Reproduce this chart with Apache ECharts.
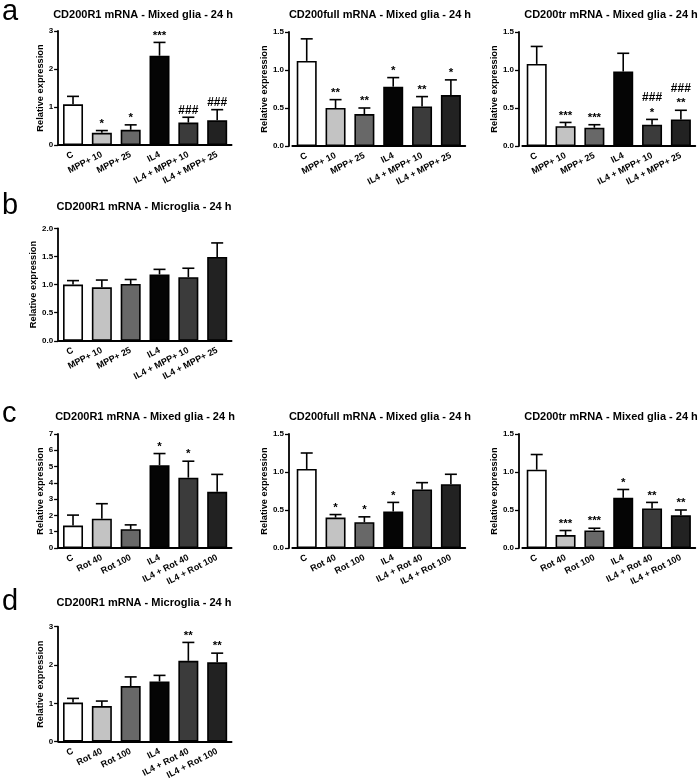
<!DOCTYPE html>
<html><head><meta charset="utf-8">
<script src="https://cdn.jsdelivr.net/npm/echarts@6/dist/echarts.min.js"></script>
<style>html,body{margin:0;padding:0;background:#fff}#c{width:699px;height:784px}</style>
</head><body><div id="c"></div>
<script>
// ---------- data ----------
const catsMPP = ['C', 'MPP+ 10', 'MPP+ 25', 'IL4', 'IL4 + MPP+ 10', 'IL4 + MPP+ 25'];
const catsRot = ['C', 'Rot 40', 'Rot 100', 'IL4', 'IL4 + Rot 40', 'IL4 + Rot 100'];

// panel a
const aR1Mean = [1.07, 0.32, 0.40, 2.35, 0.59, 0.65];
const aR1Top  = [1.28, 0.38, 0.53, 2.70, 0.73, 0.93];
const aR1Star = ['', '*', '*', '***', '', ''];
const aR1Hash = ['', '', '', '', '###', '###'];

const aFullMean = [1.12, 0.50, 0.42, 0.78, 0.52, 0.67];
const aFullTop  = [1.41, 0.61, 0.50, 0.90, 0.65, 0.87];
const aFullStar = ['', '**', '**', '*', '**', '*'];
const aFullHash = ['', '', '', '', '', ''];

const aTrMean = [1.08, 0.26, 0.24, 0.98, 0.28, 0.35];
const aTrTop  = [1.31, 0.31, 0.28, 1.22, 0.35, 0.47];
const aTrStar = ['', '***', '***', '', '*', '**'];
const aTrHash = ['', '', '', '', '###', '###'];

// panel b
const bR1Mean = [1.00, 0.95, 1.01, 1.18, 1.13, 1.49];
const bR1Top  = [1.07, 1.08, 1.09, 1.27, 1.29, 1.74];
const bR1Star = ['', '', '', '', '', ''];
const bR1Hash = ['', '', '', '', '', ''];

// panel c
const cR1Mean = [1.38, 1.80, 1.15, 5.08, 4.32, 3.45];
const cR1Top  = [2.02, 2.72, 1.42, 5.80, 5.33, 4.52];
const cR1Star = ['', '', '', '*', '*', ''];
const cR1Hash = ['', '', '', '', '', ''];

const cFullMean = [1.04, 0.40, 0.34, 0.48, 0.77, 0.84];
const cFullTop  = [1.25, 0.44, 0.41, 0.60, 0.86, 0.97];
const cFullStar = ['', '*', '*', '*', '', ''];
const cFullHash = ['', '', '', '', '', ''];

const cTrMean = [1.03, 0.17, 0.23, 0.66, 0.52, 0.43];
const cTrTop  = [1.23, 0.23, 0.26, 0.77, 0.60, 0.50];
const cTrStar = ['', '***', '***', '*', '**', '**'];
const cTrHash = ['', '', '', '', '', ''];

// panel d
const dR1Mean = [1.02, 0.93, 1.45, 1.57, 2.11, 2.07];
const dR1Top  = [1.13, 1.06, 1.69, 1.73, 2.59, 2.31];
const dR1Star = ['', '', '', '', '**', '**'];
const dR1Hash = ['', '', '', '', '', ''];

const titleR1Mixed = 'CD200R1 mRNA - Mixed glia - 24 h';
const titleFullMixed = 'CD200full mRNA - Mixed glia - 24 h';
const titleTrMixed = 'CD200tr mRNA - Mixed glia - 24 h';
const titleR1Micro = 'CD200R1 mRNA - Microglia - 24 h';
const yName = 'Relative expression';
const panelLetters = ['a', 'b', 'c', 'd'];

const barColors = ['#ffffff', '#c3c3c3', '#686868', '#050505', '#3b3b3b', '#222222'];
const FONT = '"Liberation Sans", Arial, sans-serif';

// ---------- layout ----------
const charts = [
  {cats: catsMPP, mean: aR1Mean, top: aR1Top, star: aR1Star, hash: aR1Hash, max: 3, int: 1, dec: 0, title: titleR1Mixed, left: 58.6, off: 0.5, gtop: 31, h: 114, tx: 143, ty: 15},
  {cats: catsMPP, mean: aFullMean, top: aFullTop, star: aFullStar, hash: aFullHash, max: 1.5, int: 0.5, dec: 1, title: titleFullMixed, left: 292.3, off: 3.3, gtop: 32, h: 114, tx: 380, ty: 15},
  {cats: catsMPP, mean: aTrMean, top: aTrTop, star: aTrStar, hash: aTrHash, max: 1.5, int: 0.5, dec: 1, title: titleTrMixed, left: 522.3, off: 3.3, gtop: 32, h: 114, tx: 611, ty: 15},
  {cats: catsMPP, mean: bR1Mean, top: bR1Top, star: bR1Star, hash: bR1Hash, max: 2, int: 0.5, dec: 1, title: titleR1Micro, left: 58.6, off: 0.5, gtop: 228.3, h: 112.5, tx: 144, ty: 207},
  {cats: catsRot, mean: cR1Mean, top: cR1Top, star: cR1Star, hash: cR1Hash, max: 7, int: 1, dec: 0, title: titleR1Mixed, left: 58.6, off: 0.5, gtop: 434, h: 114, tx: 145, ty: 417},
  {cats: catsRot, mean: cFullMean, top: cFullTop, star: cFullStar, hash: cFullHash, max: 1.5, int: 0.5, dec: 1, title: titleFullMixed, left: 292.3, off: 3.3, gtop: 434, h: 114, tx: 380, ty: 417},
  {cats: catsRot, mean: cTrMean, top: cTrTop, star: cTrStar, hash: cTrHash, max: 1.5, int: 0.5, dec: 1, title: titleTrMixed, left: 522.3, off: 3.3, gtop: 434, h: 114, tx: 611, ty: 417},
  {cats: catsRot, mean: dR1Mean, top: dR1Top, star: dR1Star, hash: dR1Hash, max: 3, int: 1, dec: 0, title: titleR1Micro, left: 58.6, off: 0.5, gtop: 626.7, h: 115, tx: 144, ty: 603}
];
const letterPos = [[2, 12], [2, 206], [2, 414], [2, 602]];

const grid = [], xAxis = [], yAxis = [], series = [], graphic = [];
charts.forEach((c, k) => {
  grid.push({left: c.left, top: c.gtop, width: 173, height: c.h, containLabel: false});
  xAxis.push({
    type: 'category', gridIndex: k, data: c.cats,
    axisLine: {lineStyle: {color: '#000', width: 1.8}},
    axisTick: {alignWithLabel: true, length: 4, lineStyle: {color: '#000', width: 1.3}},
    axisLabel: {interval: 0, rotate: 27, margin: 9, color: '#000', fontSize: 9, fontWeight: 'bold', fontFamily: FONT}
  });
  yAxis.push({
    type: 'value', gridIndex: k, min: 0, max: c.max, interval: c.int, offset: c.off,
    name: yName, nameLocation: 'middle', nameGap: c.dec ? 20 : 13,
    nameTextStyle: {color: '#000', fontSize: 9.3, fontWeight: 'bold', fontFamily: FONT},
    axisLine: {show: true, lineStyle: {color: '#000', width: 1.8}},
    axisTick: {show: true, length: 4, lineStyle: {color: '#000', width: 1.3}},
    splitLine: {show: false},
    axisLabel: {margin: 5, color: '#000', fontSize: 8, fontWeight: 'bold', fontFamily: FONT,
      formatter: v => v.toFixed(c.dec)}
  });
  series.push({
    type: 'bar', xAxisIndex: k, yAxisIndex: k, barWidth: 20,
    data: c.mean.map((v, i) => ({value: v, itemStyle: {color: barColors[i]}})),
    itemStyle: {borderColor: '#000', borderWidth: 1.6},
    animation: false, silent: true
  });
  series.push({
    type: 'custom', xAxisIndex: k, yAxisIndex: k, z: 5, animation: false, silent: true,
    data: c.mean.map((v, i) => [i, v, c.top[i]]),
    renderItem: (params, api) => {
      const i = params.dataIndex;
      const b = api.coord([i, c.mean[i]]);
      const t = api.coord([i, c.top[i]]);
      const x = b[0];
      const ch = [
        {type: 'line', shape: {x1: x, y1: b[1], x2: x, y2: t[1]}, style: {stroke: '#000', lineWidth: 1.6}},
        {type: 'line', shape: {x1: x - 6, y1: t[1], x2: x + 6, y2: t[1]}, style: {stroke: '#000', lineWidth: 1.6}}
      ];
      let y = t[1] - 1;
      if (c.star[i]) {
        ch.push({type: 'text', style: {text: c.star[i], x: x, y: y, align: 'center', verticalAlign: 'bottom', textAlign: 'center', textVerticalAlign: 'bottom', fill: '#000', font: 'bold 11.5px ' + FONT}});
        y -= 15;
      }
      if (c.hash[i]) {
        ch.push({type: 'text', style: {text: c.hash[i], x: x, y: y, align: 'center', verticalAlign: 'bottom', textAlign: 'center', textVerticalAlign: 'bottom', fill: '#000', font: 'bold 12px ' + FONT}});
      }
      return {type: 'group', children: ch};
    }
  });
  graphic.push({type: 'text', x: c.tx, y: c.ty, style: {text: c.title, x: 0, y: 0, align: 'center', verticalAlign: 'middle', textAlign: 'center', textVerticalAlign: 'middle', fill: '#000', font: 'bold 11px ' + FONT}});
});
panelLetters.forEach((L, i) => {
  graphic.push({type: 'text', x: letterPos[i][0], y: letterPos[i][1], style: {text: L, align: 'left', verticalAlign: 'middle', textAlign: 'left', textVerticalAlign: 'middle', fill: '#000', font: '29px ' + FONT}});
});

const chart = echarts.init(document.getElementById('c'), null, {renderer: 'canvas'});
chart.setOption({backgroundColor: '#fff', animation: false, grid, xAxis, yAxis, series, graphic});
</script></body></html>
